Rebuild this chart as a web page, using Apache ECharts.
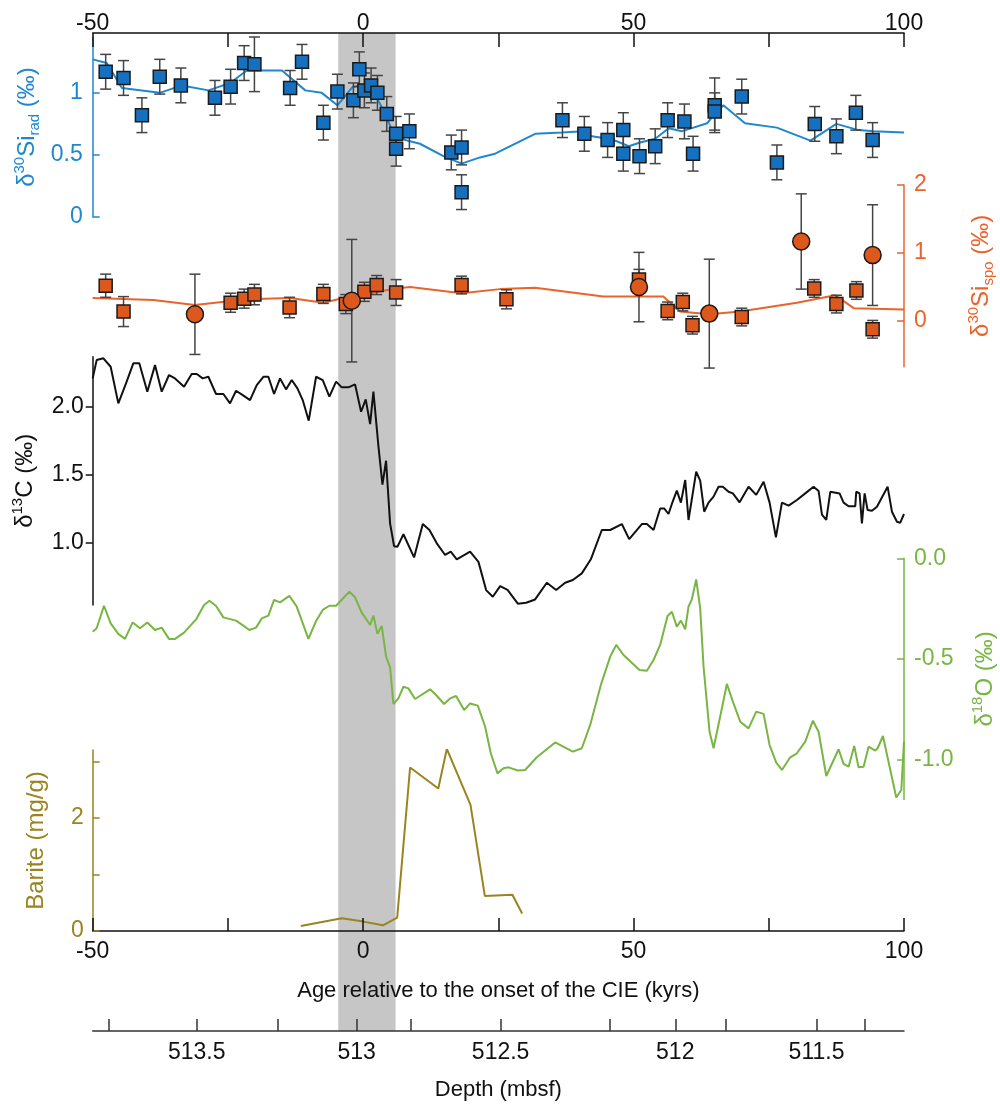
<!DOCTYPE html>
<html><head><meta charset="utf-8">
<script src="https://cdn.jsdelivr.net/npm/echarts@6.0.0/dist/echarts.min.js"></script>
<style>html,body{margin:0;padding:0;background:#fff}</style>
</head>
<body>
<div id="c" style="width:1000px;height:1105px"></div>
<script>
// ---------------- data ----------------
const ageTicks = [-50, -25, 0, 25, 50, 75, 100];
const bandAges = [-4.6, 6.0];

// Radiolarian δ30Si
const radAge = [-47.6,-44.3,-40.9,-37.6,-33.7,-27.4,-24.5,-22.0,-20.1,-13.5,-11.3,-7.35,-4.76,-1.8,-0.7,0.23,1.47,2.64,4.37,6.1,6.1,8.55,16.3,18.2,18.2,36.85,40.9,45.2,48.1,48.1,51.1,54.0,56.3,59.4,61.0,65.0,65.0,70.0,76.5,83.5,87.5,91.1,94.2];
const radVal = [1.17,1.12,0.82,1.13,1.06,0.96,1.05,1.24,1.23,1.04,1.25,0.76,1.01,0.94,1.19,1.02,1.06,1.0,0.83,0.67,0.55,0.69,0.52,0.56,0.20,0.78,0.67,0.62,0.70,0.51,0.49,0.57,0.78,0.77,0.51,0.90,0.85,0.97,0.44,0.75,0.65,0.84,0.62];
const radErr = [0.14,0.14,0.14,0.14,0.14,0.14,0.14,0.14,0.22,0.14,0.14,0.14,0.14,0.14,0.14,0.14,0.14,0.14,0.14,0.14,0.14,0.14,0.14,0.14,0.14,0.14,0.14,0.14,0.14,0.14,0.14,0.14,0.14,0.14,0.14,0.22,0.15,0.14,0.14,0.14,0.14,0.14,0.14];
const radLineAge = [-50,-47.4,-44.6,-37.6,-33.5,-28.6,-24.6,-21.5,-15.0,-10.7,-7.65,-4.76,-1.9,0.05,1.9,3.75,5.6,7.8,10.5,14.85,18.2,21.6,24.4,31.8,36.7,40.7,42.3,45.3,46.9,49.1,51.2,54.0,56.5,58.9,63.6,64.8,66.6,70.6,76.5,82.7,87.5,91.6,94.4,100];
const radLineVal = [1.27,1.24,1.04,1.0,1.06,1.02,1.08,1.18,1.18,1.02,1.0,0.9,1.05,1.06,1.01,0.86,0.675,0.62,0.59,0.49,0.43,0.48,0.51,0.67,0.68,0.69,0.65,0.63,0.61,0.57,0.60,0.63,0.715,0.69,0.755,0.82,0.90,0.755,0.72,0.615,0.75,0.70,0.69,0.68];

// Sponge δ30Si
const spoSqAge = [-47.6,-44.3,-24.5,-22.0,-20.1,-13.6,-7.35,-3.2,0.23,2.5,6.1,18.2,26.5,51.0,56.3,59.1,60.9,70.0,83.4,87.5,91.2,94.2];
const spoSqVal = [0.52,0.14,0.27,0.33,0.39,0.2,0.40,0.25,0.43,0.53,0.42,0.53,0.32,0.61,0.15,0.28,-0.06,0.06,0.48,0.25,0.45,-0.12];
const spoSqErr = [0.17,0.22,0.14,0.14,0.15,0.15,0.14,0.14,0.14,0.14,0.19,0.13,0.14,0.15,0.13,0.13,0.13,0.13,0.13,0.13,0.13,0.13];
const spoCiAge = [-31.1,-2.1,51.0,64.0,81.0,94.2];
const spoCiVal = [0.10,0.30,0.50,0.11,1.17,0.97];
const spoCiErr = [0.59,0.9,0.51,0.8,0.70,0.74];
const spoLineAge = [-50,-38.8,-31.1,-21.5,-13.5,-7.35,-3.65,6.1,8.7,18.2,25.3,31.8,44.4,55.5,58.6,64.0,69.7,80.2,87.3,90.7,100];
const spoLineVal = [0.34,0.31,0.235,0.32,0.34,0.27,0.34,0.48,0.50,0.41,0.47,0.49,0.36,0.36,0.14,0.10,0.14,0.27,0.38,0.19,0.17];

// δ13C
const c13Age = [-50.0,-49.27,-48.03,-46.68,-45.26,-43.84,-42.49,-41.38,-39.9,-38.48,-37.24,-35.89,-34.78,-33.11,-31.7,-30.77,-29.66,-28.61,-27.2,-25.84,-24.61,-23.5,-22.26,-20.91,-19.67,-18.44,-17.52,-16.47,-15.36,-14.25,-13.2,-12.15,-11.17,-10.06,-8.7,-7.47,-6.24,-5.0,-3.95,-2.72,-1.49,-0.38,0.48,1.29,1.9,2.83,3.57,4.24,4.98,5.72,6.34,7.45,9.42,11.03,12.26,13.62,15.16,16.2,17.31,19.78,21.32,22.74,23.97,25.33,26.7,28.6,30.14,31.8,33.96,35.69,37.35,38.77,40.43,42.1,44.13,45.68,47.83,49.19,51.53,52.46,53.69,54.92,55.66,56.46,57.08,58.0,58.75,59.55,60.16,61.58,62.32,63.06,63.86,64.79,65.71,66.51,67.56,68.36,69.6,71.26,72.68,74.04,75.15,76.32,77.43,78.66,80.2,81.74,83.28,84.21,84.83,85.63,86.37,88.09,88.83,89.76,90.99,91.17,91.79,92.22,92.72,93.27,94.07,95.0,96.97,97.77,98.7,99.31,100];
const c13Val = [2.209,2.344,2.357,2.295,2.025,2.172,2.32,2.32,2.111,2.307,2.111,2.234,2.209,2.148,2.241,2.241,2.209,2.221,2.094,2.094,2.025,2.118,2.086,2.049,2.16,2.221,2.221,2.094,2.209,2.128,2.197,2.135,2.049,1.897,2.221,2.197,2.074,2.185,2.143,2.143,2.165,1.963,2.054,1.872,2.111,1.708,1.425,1.602,1.14,0.972,0.967,1.06,0.889,1.135,1.091,0.993,0.907,0.931,0.875,0.931,0.856,0.648,0.599,0.677,0.65,0.548,0.555,0.579,0.702,0.648,0.702,0.722,0.771,0.875,1.091,1.091,1.135,1.024,1.135,1.135,1.091,1.25,1.25,1.209,1.283,1.381,1.293,1.46,1.165,1.521,1.455,1.226,1.293,1.337,1.41,1.41,1.373,1.361,1.295,1.41,1.35,1.447,1.293,1.037,1.293,1.271,1.312,1.361,1.41,1.379,1.205,1.165,1.373,1.361,1.293,1.266,1.266,1.373,1.361,1.14,1.361,1.238,1.233,1.263,1.41,1.226,1.152,1.145,1.209];

// δ18O
const o18Age = [-50,-49.27,-47.91,-46.68,-45.26,-44.03,-42.61,-41.26,-39.9,-38.48,-37.24,-35.89,-34.78,-33.11,-30.89,-29.41,-28.42,-27.19,-25.84,-23.5,-22.14,-21.03,-19.8,-18.75,-17.52,-16.47,-15.36,-13.64,-12.28,-10.12,-8.7,-7.47,-6.24,-5.0,-2.54,-1.49,-0.26,1.29,1.9,2.64,3.45,4.24,4.98,5.6,6.52,7.45,8.37,9.6,12.38,13.49,14.97,16.08,17.19,18.67,19.78,21.2,22.56,23.6,24.84,25.95,26.87,28.6,29.95,32.11,35.5,38.77,40.43,41.98,43.95,45.68,46.79,48.14,51.1,52.46,53.69,54.92,56.28,57.08,58.0,58.75,59.55,60.16,60.78,61.58,62.32,62.94,64.05,64.79,66.14,67.25,68.36,69.72,71.26,72.68,74.04,75.15,76.38,77.43,78.97,80.2,81.74,83.16,84.21,85.63,87.91,88.83,89.76,90.8,91.6,92.53,93.45,94.69,95.12,96.11,97.34,98.57,99.5,100];
const o18Val = [-0.365,-0.348,-0.236,-0.324,-0.376,-0.401,-0.319,-0.348,-0.319,-0.357,-0.345,-0.401,-0.401,-0.37,-0.304,-0.232,-0.211,-0.237,-0.294,-0.31,-0.335,-0.357,-0.345,-0.299,-0.285,-0.207,-0.219,-0.187,-0.24,-0.401,-0.312,-0.257,-0.236,-0.236,-0.166,-0.194,-0.27,-0.332,-0.285,-0.376,-0.337,-0.489,-0.542,-0.725,-0.697,-0.639,-0.647,-0.7,-0.652,-0.68,-0.725,-0.697,-0.685,-0.755,-0.722,-0.733,-0.838,-0.97,-1.07,-1.045,-1.04,-1.056,-1.053,-0.99,-0.916,-0.962,-0.945,-0.829,-0.63,-0.489,-0.431,-0.481,-0.556,-0.559,-0.506,-0.431,-0.287,-0.266,-0.34,-0.31,-0.353,-0.24,-0.204,-0.105,-0.249,-0.539,-0.863,-0.945,-0.771,-0.625,-0.713,-0.813,-0.846,-0.763,-0.774,-0.929,-1.017,-1.053,-0.99,-0.97,-0.912,-0.808,-0.863,-1.083,-0.95,-1.023,-1.037,-0.934,-1.04,-1.037,-0.937,-0.957,-0.945,-0.884,-1.037,-1.19,-1.153,-0.912];

// Barite
const barAge = [-11.53,-3.93,0.03,3.67,6.3,8.68,13.9,15.47,19.85,22.5,27.6,29.4];
const barVal = [0.089,0.226,0.166,0.10,0.238,2.89,2.52,3.22,2.23,0.62,0.64,0.31];

// Depth axis (age-depth tie points for tick marks)
const depthTicks = [513.75,513.5,513.25,513,512.75,512.5,512.25,512,511.75,511.5,511.25];
const depthTickAges = [-46.97,-30.77,-15.79,-1.21,8.72,25.42,45.67,57.71,67.13,83.83,92.72];
const depthLabels = [513.5,513,512.5,512,511.5];

// ---------------- helpers ----------------
const zip = (a, b) => a.map((v, i) => [v, b[i]]);
const zip3 = (a, b, c) => a.map((v, i) => [v, b[i], c[i]]);
const FONT = "'Liberation Sans', Arial, sans-serif";
const BLUE = '#1f87d0', BLUEF = '#1570bf';
const ORANGE = '#e9642c', ORANGEF = '#dc581c';
const GREEN = '#79b543', OLIVE = '#9a841f', BLACK = '#111';

const depthMap = {};
depthTickAges.forEach((a, i) => { depthMap[a.toFixed(2)] = depthTicks[i]; });
const depthLabelAges = depthLabels.map(d => depthTickAges[depthTicks.indexOf(d)]);

function errRender(params, api) {
  const x = api.value(0), y = api.value(1), e = api.value(2);
  const t = api.coord([x, y + e]), b = api.coord([x, y - e]);
  const hw = 5.5;
  const st = { stroke: '#444', lineWidth: 1.5, fill: null };
  return { type: 'group', children: [
    { type: 'line', shape: { x1: t[0], y1: t[1], x2: b[0], y2: b[1] }, style: st },
    { type: 'line', shape: { x1: t[0] - hw, y1: t[1], x2: t[0] + hw, y2: t[1] }, style: st },
    { type: 'line', shape: { x1: b[0] - hw, y1: b[1], x2: b[0] + hw, y2: b[1] }, style: st }
  ]};
}
function bandRender(params, api) {
  const p0 = api.coord([api.value(0), 1]);
  const p1 = api.coord([api.value(1), 0]);
  return { type: 'rect', shape: { x: p0[0], y: p0[1], width: p1[0] - p0[0], height: p1[1] - p0[1] },
           style: { fill: '#c6c6c6' } };
}
function richName(color) {
  return {
    color: color, fontFamily: FONT, fontSize: 24,
    rich: {
      t: { color: color, fontFamily: FONT, fontSize: 24, lineHeight: 30 },
      sup: { color: color, fontFamily: FONT, fontSize: 15, lineHeight: 15, verticalAlign: 'top' },
      sub: { color: color, fontFamily: FONT, fontSize: 15, lineHeight: 15, verticalAlign: 'bottom' }
    }
  };
}

const L = 92.7, R = 96;
const G = (top, height) => ({ left: L, right: R, top: top, height: height, containLabel: false, outerBoundsMode: 'none' });
const grid = [
  G(33, 998),      // 0 band / top + depth axes
  G(37, 180),      // 1 rad
  G(185, 181.7),   // 2 sponge
  G(356.7, 248.3), // 3 d13C
  G(558.3, 241.2), // 4 d18O
  G(750, 181)      // 5 barite
];

const ageLabelFmt = v => (v % 50 === 0 ? String(v) : '');
const hiddenX = i => ({ type: 'value', gridIndex: i, min: -50, max: 100, show: false, axisLine: { onZero: false } });

const xAxis = [
  { type: 'value', gridIndex: 0, position: 'top', min: -50, max: 100, interval: 25, z: 5,
    axisLine: { show: true, onZero: false, lineStyle: { color: BLACK, width: 1.5 } },
    axisTick: { show: true, inside: true, length: 14, lineStyle: { color: BLACK, width: 1.5 } },
    axisLabel: { formatter: ageLabelFmt, fontSize: 23, color: BLACK, fontFamily: FONT, margin: -2 },
    splitLine: { show: false } },
  { type: 'value', gridIndex: 0, position: 'bottom', min: -50, max: 100, z: 5,
    axisLine: { show: true, onZero: false, lineStyle: { color: '#333', width: 1.5 } },
    axisTick: { show: true, inside: true, length: 12, customValues: depthTickAges, lineStyle: { color: '#333', width: 1.5 } },
    axisLabel: { customValues: depthLabelAges, fontSize: 23, color: BLACK, fontFamily: FONT, margin: 10,
      formatter: v => { const d = depthMap[Number(v).toFixed(2)]; return d === undefined ? '' : String(d); } },
    splitLine: { show: false },
    name: 'Depth (mbsf)', nameLocation: 'middle', nameGap: 48, nameMoveOverlap: false,
    nameTextStyle: { fontSize: 22, color: BLACK, fontFamily: FONT } },
  hiddenX(1), hiddenX(2), hiddenX(3), hiddenX(4),
  { type: 'value', gridIndex: 5, position: 'bottom', min: -50, max: 100, interval: 25, z: 5,
    axisLine: { show: true, onZero: false, lineStyle: { color: BLACK, width: 1.5 } },
    axisTick: { show: true, inside: true, length: 13, lineStyle: { color: BLACK, width: 1.5 } },
    axisLabel: { formatter: ageLabelFmt, fontSize: 23, color: BLACK, fontFamily: FONT, margin: 9 },
    splitLine: { show: false },
    name: 'Age relative to the onset of the CIE (kyrs)', nameLocation: 'middle', nameGap: 49, nameMoveOverlap: false,
    nameTextStyle: { fontSize: 22, color: BLACK, fontFamily: FONT } }
];

function yAx(o) {
  const base = { type: 'value', z: 5, splitLine: { show: false }, nameLocation: 'middle', nameRotate: 90, nameMoveOverlap: false };
  const r = Object.assign(base, o);
  r.axisLine = Object.assign({ onZero: false }, o.axisLine || {});
  return r;
}
const yAxis = [
  { type: 'value', gridIndex: 0, min: 0, max: 1, show: false, axisLine: { onZero: false } },
  yAx({ gridIndex: 1, position: 'left', min: 0, max: 1.45,
    axisLine: { show: true, lineStyle: { color: BLUE, width: 1.5 } },
    axisTick: { show: true, inside: true, length: 7, customValues: [0, 0.5, 1], lineStyle: { color: BLUE, width: 1.5 } },
    axisLabel: { customValues: [0, 0.5, 1], fontSize: 23, color: BLUE, fontFamily: FONT, margin: 10 },
    name: '{t|δ}{sup|30}{t|Si}{sub|rad}{t| (‰)}', nameGap: 50, nameTextStyle: richName(BLUE) }),
  yAx({ gridIndex: 2, position: 'right', min: -0.67, max: 2,
    axisLine: { show: true, lineStyle: { color: ORANGE, width: 1.5 } },
    axisTick: { show: true, inside: true, length: 7, customValues: [0, 1, 2], lineStyle: { color: ORANGE, width: 1.5 } },
    axisLabel: { customValues: [0, 1, 2], fontSize: 23, color: ORANGE, fontFamily: FONT, margin: 10 },
    name: '{t|δ}{sup|30}{t|Si}{sub|spo}{t| (‰)}', nameGap: 62, nameTextStyle: richName(ORANGE) }),
  yAx({ gridIndex: 3, position: 'left', min: 0.538, max: 2.369,
    axisLine: { show: true, lineStyle: { color: BLACK, width: 1.5 } },
    axisTick: { show: true, inside: false, length: 7, customValues: [1, 1.5, 2], lineStyle: { color: BLACK, width: 1.5 } },
    axisLabel: { customValues: [1, 1.5, 2], formatter: v => Number(v).toFixed(1), fontSize: 23, color: BLACK, fontFamily: FONT, margin: 9 },
    name: '{t|δ}{sup|13}{t|C (‰)}', nameGap: 52, nameTextStyle: richName(BLACK) }),
  yAx({ gridIndex: 4, position: 'right', min: -1.2, max: 0,
    axisLine: { show: true, lineStyle: { color: GREEN, width: 1.5 } },
    axisTick: { show: true, inside: true, length: 7, customValues: [-1, -0.5, 0], lineStyle: { color: GREEN, width: 1.5 } },
    axisLabel: { customValues: [-1, -0.5, 0], formatter: v => Number(v).toFixed(1), fontSize: 23, color: GREEN, fontFamily: FONT, margin: 10 },
    name: '{t|δ}{sup|18}{t|O (‰)}', nameGap: 66, nameTextStyle: richName(GREEN) }),
  yAx({ gridIndex: 5, position: 'left', min: 0, max: 3.2,
    axisLine: { show: true, lineStyle: { color: OLIVE, width: 1.5 } },
    axisTick: { show: true, inside: true, length: 7, customValues: [0, 1, 2, 3], lineStyle: { color: OLIVE, width: 1.5 } },
    axisLabel: { customValues: [0, 2], fontSize: 23, color: OLIVE, fontFamily: FONT, margin: 9 },
    name: 'Barite (mg/g)', nameGap: 44, nameTextStyle: { fontSize: 24, color: OLIVE, fontFamily: FONT } })
];

const lineS = (xi, yi, data, color, z) => ({
  type: 'line', xAxisIndex: xi, yAxisIndex: yi, data: data, showSymbol: false, symbol: 'none',
  lineStyle: { color: color, width: 2 }, z: z || 2, silent: true
});
const errS = (xi, yi, data) => ({
  type: 'custom', xAxisIndex: xi, yAxisIndex: yi, data: data, renderItem: errRender,
  encode: { x: 0, y: 1 }, z: 3, silent: true
});
const ptS = (xi, yi, data, sym, size, color) => ({
  type: 'scatter', xAxisIndex: xi, yAxisIndex: yi, data: data, symbol: sym, symbolSize: size,
  itemStyle: { color: color, borderColor: '#1a1a1a', borderWidth: 1.5, opacity: 1 }, z: 4, silent: true
});

const series = [
  { type: 'custom', xAxisIndex: 0, yAxisIndex: 0, data: [bandAges], renderItem: bandRender,
    encode: { x: [0, 1] }, z: 0, silent: true },
  lineS(2, 1, zip(radLineAge, radLineVal), BLUE),
  errS(2, 1, zip3(radAge, radVal, radErr)),
  ptS(2, 1, zip(radAge, radVal), 'rect', 13, BLUEF),
  lineS(3, 2, zip(spoLineAge, spoLineVal), ORANGE),
  errS(3, 2, zip3(spoSqAge, spoSqVal, spoSqErr)),
  errS(3, 2, zip3(spoCiAge, spoCiVal, spoCiErr)),
  ptS(3, 2, zip(spoSqAge, spoSqVal), 'rect', 13, ORANGEF),
  ptS(3, 2, zip(spoCiAge, spoCiVal), 'circle', 17, ORANGEF),
  lineS(4, 3, zip(c13Age, c13Val), BLACK),
  lineS(5, 4, zip(o18Age, o18Val), GREEN),
  lineS(6, 5, zip(barAge, barVal), OLIVE)
];

const chart = echarts.init(document.getElementById('c'), null, { renderer: 'canvas' });
chart.setOption({
  animation: false,
  backgroundColor: '#fff',
  textStyle: { fontFamily: FONT },
  grid: grid, xAxis: xAxis, yAxis: yAxis, series: series
});
</script>
</body></html>
